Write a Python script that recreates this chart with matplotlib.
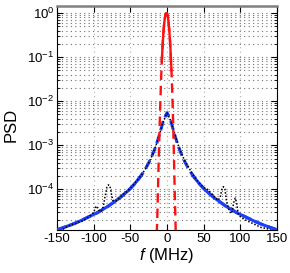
import numpy as np
import matplotlib
matplotlib.use("Agg")
import matplotlib.pyplot as plt
from matplotlib.ticker import LogLocator, NullFormatter

plt.rcParams['font.family'] = ['Liberation Sans', 'DejaVu Sans']
plt.rcParams['axes.unicode_minus'] = False
plt.rcParams['mathtext.fontset'] = 'custom'
plt.rcParams['mathtext.rm'] = 'Liberation Sans'
plt.rcParams['mathtext.it'] = 'Liberation Sans:italic'

# red: narrow line (log10 PSD)
f_red = [-14, -13, -12, -11, -10, -9, -8, -7, -6, -5, -4, -3, -2, -1, 0,
         1, 2, 3, 4, 5, 6, 7, 8, 9, 10, 11, 12]
lg_red = [-5.0, -4.45, -3.75, -3.1, -2.5, -1.95, -1.45, -1.05, -0.72, -0.45, -0.25, -0.11, -0.03, 0.0, -0.01,
          -0.07, -0.2, -0.38, -0.62, -0.92, -1.3, -1.75, -2.3, -2.95, -3.7, -4.4, -5.05]

# blue: lorentzian fit (log10 PSD)
f_blue = [-150, -140, -130, -120, -110, -100, -95, -90, -85, -80, -75, -70, -65, -60, -55, -50,
          -45, -40, -35, -30, -25, -20, -15, -10, -5, 0, 5, 10, 15, 20, 25, 30, 35, 40, 45,
          50, 55, 60, 65, 70, 75, 80, 85, 90, 95, 100, 110, 120, 130, 140, 150]
lg_blue = [-4.92, -4.86, -4.80, -4.73, -4.65, -4.57, -4.53, -4.48, -4.43, -4.38, -4.32, -4.26, -4.20, -4.13, -4.06, -3.98,
           -3.89, -3.79, -3.68, -3.55, -3.40, -3.22, -3.01, -2.74, -2.44, -2.26, -2.44, -2.74, -3.01, -3.22, -3.40, -3.55, -3.68, -3.79, -3.89,
           -3.98, -4.06, -4.13, -4.20, -4.26, -4.32, -4.38, -4.43, -4.48, -4.53, -4.57, -4.65, -4.73, -4.80, -4.86, -4.92]

# black: measured spectrum (log10 PSD)
f_meas = [-150, -145, -140, -135, -130, -125, -120, -115, -110, -105, -100, -97, -95, -92, -90, -87,
          -85, -82, -80, -78, -76, -74, -70, -65, -60, -55, -50, -45, -40, -35, -30, -25, -20,
          -15, -10, -5, 0, 5, 10, 15, 20, 25, 30, 35, 40, 45, 50, 55, 60, 65, 70, 73, 75, 77,
          79, 81, 84, 87, 89, 91, 93, 95, 97, 100, 105, 110, 115, 120, 125, 130, 135, 140, 145, 150]
lg_meas = [-4.98, -4.95, -4.88, -4.84, -4.80, -4.78, -4.74, -4.72, -4.66, -4.60, -4.52, -4.38, -4.42, -4.50, -4.50, -4.40,
           -4.20, -3.95, -3.90, -3.92, -4.10, -4.25, -4.27, -4.20, -4.12, -4.05, -3.98, -3.88, -3.78, -3.68, -3.55, -3.40, -3.22,
           -3.00, -2.74, -2.45, -2.27, -2.44, -2.72, -2.98, -3.20, -3.38, -3.52, -3.66, -3.78, -3.88, -3.96, -4.00, -4.08, -4.18, -4.25, -4.15, -3.98, -3.94,
           -4.00, -4.25, -4.45, -4.55, -4.50, -4.30, -4.20, -4.30, -4.55, -4.62, -4.68, -4.72, -4.76, -4.80, -4.84, -4.88, -4.88, -4.92, -4.95, -4.98]

f_red = np.array(f_red)
psd_red = 10.0 ** np.array(lg_red)
f_blue = np.array(f_blue)
psd_blue = 10.0 ** np.array(lg_blue)
psd_meas = 10.0 ** np.array(lg_meas)

fig = plt.figure(figsize=(2.9, 2.73), dpi=100)
ax = fig.add_axes([0.197, 0.158, 0.758, 0.82])

blue = '#2040f8'
ax.plot(f_blue, psd_blue, color=blue, lw=2.2, ls=(0, (3, 1.5)), zorder=3)
outer = np.abs(f_blue) >= 35
ax.plot(np.where(outer & (f_blue < 0), f_blue, np.nan), psd_blue, color=blue, lw=2.2, zorder=3)
ax.plot(np.where(outer & (f_blue > 0), f_blue, np.nan), psd_blue, color=blue, lw=2.2, zorder=3)
ax.plot(f_meas, psd_meas, color='black', lw=1.1, ls=(0, (1, 1.2)), zorder=4)
ax.plot(f_red, psd_red, color='#ff1010', lw=1.7, ls=(0, (4, 2.5)), zorder=5)
mid = (f_red >= -7) & (f_red <= 6)
ax.plot(f_red[mid], psd_red[mid], color='#ff1010', lw=1.7, zorder=6)

ax.set_yscale('log')
ax.set_xlim(-150, 150)
ax.set_ylim(1.2e-5, 1.45)
ax.set_xticks([-150, -100, -50, 0, 50, 100, 150])
ax.yaxis.set_major_locator(LogLocator(base=10, numticks=10))
ax.yaxis.set_minor_locator(LogLocator(base=10, subs=np.arange(2, 10), numticks=20))
ax.yaxis.set_minor_formatter(NullFormatter())

ax.grid(True, which='major', axis='x', color='#b0b0b0', ls=(0, (1, 3)), lw=0.8)
ax.grid(True, which='both', axis='y', color='#707070', ls=(0, (1, 3)), lw=0.8)
ax.tick_params(which='both', direction='in', top=True, right=True, labelsize=9.5, pad=2)
ax.tick_params(which='major', length=4)
ax.tick_params(which='minor', length=2)
ax.spines['top'].set_color('#808080')
ax.spines['top'].set_linewidth(1.8)

ax.set_ylabel('PSD', fontsize=12)
ax.yaxis.set_label_coords(-0.175, 0.47)
ax.set_xlabel('$\\it{f}$ (MHz)', fontsize=12, labelpad=1)

fig.savefig('out.png', dpi=100)
